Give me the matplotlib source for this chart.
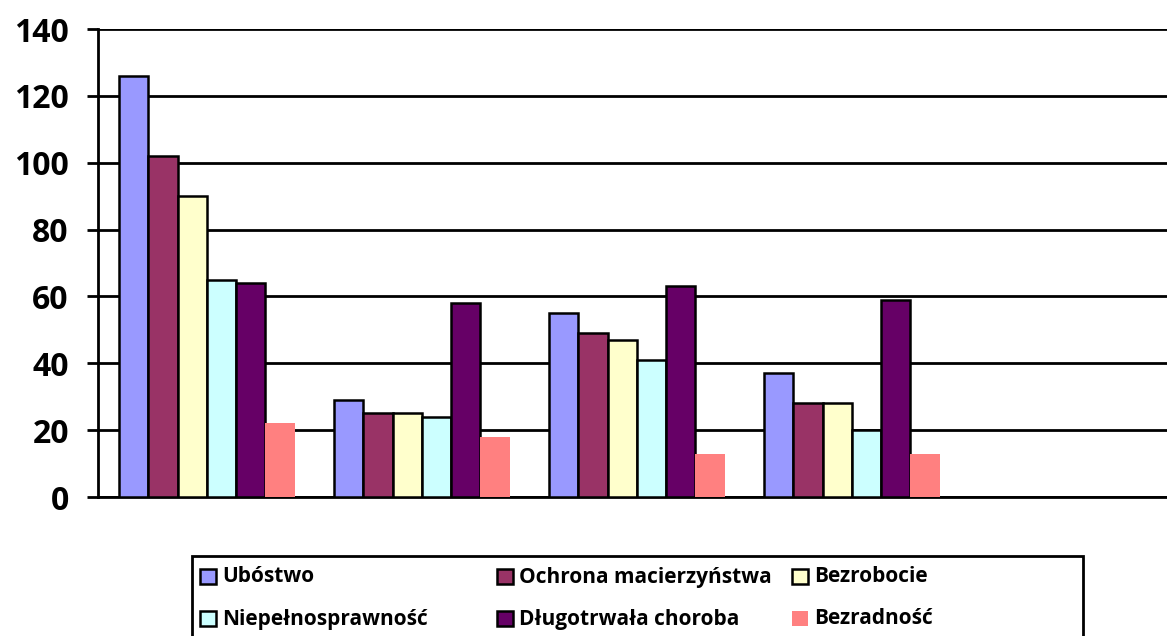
import matplotlib.pyplot as plt
import matplotlib.patches as mpatches
import numpy as np

plt.rcParams["font.family"] = ["Open Sans", "DejaVu Sans"]
plt.rcParams["font.weight"] = "bold"

# 5 slots on the x axis, last one empty
n_slots = 5
series = ["Ubóstwo", "Ochrona macierzyństwa", "Bezrobocie",
          "Niepełnosprawność", "Długotrwała choroba", "Bezradność"]
ubostwo = [126, 29, 55, 37]
ochrona = [102, 25, 49, 28]
bezrobocie = [90, 25, 47, 28]
niepelnospr = [65, 24, 41, 20]
choroba = [64, 58, 63, 59]
bezradnosc = [22, 18, 13, 13]
values = [ubostwo, ochrona, bezrobocie, niepelnospr, choroba, bezradnosc]
colors = ["#9999FF", "#993366", "#FFFFCC", "#CCFFFF", "#660066", "#FF8080"]
edges = ["black"] * 5 + ["none"]

fig = plt.figure(figsize=(11.67, 6.36), dpi=100)
W, H = 1167, 636
left, right, top, bottom = 98, 98 + 215 * n_slots, 29, 497
ax = fig.add_axes([left / W, 1 - bottom / H, (right - left) / W, (bottom - top) / H])

bw = 0.136
x = np.arange(len(ubostwo))
for i, (vals, c, e) in enumerate(zip(values, colors, edges)):
    ax.bar(x + (i - 2.45) * bw, vals, bw, color=c, edgecolor=e, linewidth=1.8,
           zorder=3)

ax.set_xlim(-0.5, n_slots - 0.5)
ax.set_ylim(0, 140)
ax.set_yticks(range(0, 141, 20))
ax.yaxis.grid(True, color="black", linewidth=2)
ax.set_axisbelow(True)
ax.set_xticks([])
ax.tick_params(axis="y", length=8, width=2, labelsize=23, pad=13)
for s in ["top", "right"]:
    ax.spines[s].set_visible(False)
for s in ["left", "bottom"]:
    ax.spines[s].set_linewidth(2)

# legend drawn in pixel positions like the original box
fig.patches.append(mpatches.Rectangle((192 / W, 1 - 645 / H), (1083 - 192) / W, 89 / H,
                                      transform=fig.transFigure, fill=False,
                                      edgecolor="black", linewidth=2))
col_x = [200, 497, 792]
row_y = [576, 618]
for k, (name, c, e) in enumerate(zip(series, colors, edges)):
    cx = col_x[k % 3]
    cy = row_y[k // 3]
    fig.patches.append(mpatches.Rectangle((cx / W, 1 - (cy + 7.5) / H), 16 / W, 15 / H,
                                          transform=fig.transFigure, facecolor=c,
                                          edgecolor="black" if e != "none" else "none",
                                          linewidth=1.8))
    fig.text((cx + 22) / W, 1 - (cy + 1) / H, name, fontsize=15, fontweight="bold",
             va="center", ha="left")

fig.savefig("out.png", dpi=100)
